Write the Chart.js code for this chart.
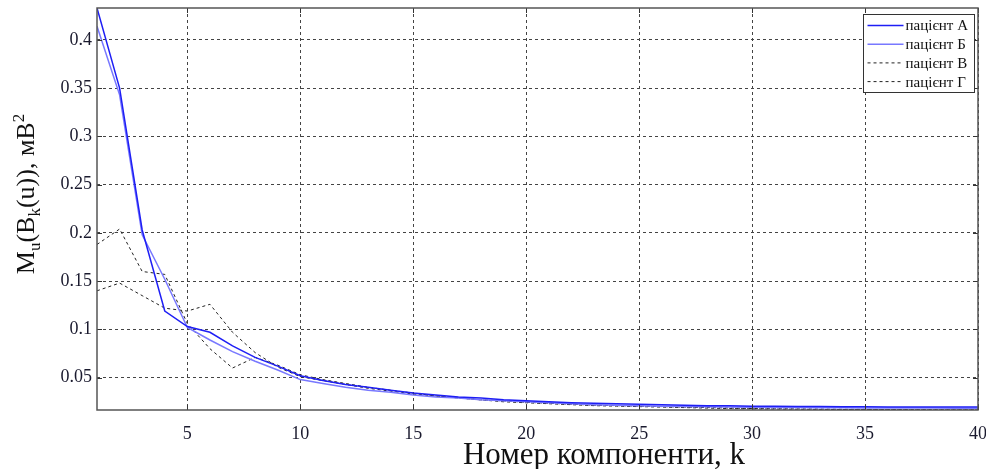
<!DOCTYPE html>
<html>
<head>
<meta charset="utf-8">
<script src="https://cdn.jsdelivr.net/npm/chart.js@4.4.1/dist/chart.umd.min.js"></script>
<style>
  html, body { margin: 0; padding: 0; background: #fff; }
  #wrap { width: 986px; height: 469px; }
</style>
</head>
<body>
<div id="wrap"><canvas id="compChart" width="986" height="469"></canvas></div>
<script>
/* eslint-disable no-undef */

// номер компоненти k
const kValues = [1, 2, 3, 4, 5, 6, 7, 8, 9, 10, 11, 12, 13, 14, 15, 16, 17, 18, 19, 20,
  21, 22, 23, 24, 25, 26, 27, 28, 29, 30, 31, 32, 33, 34, 35, 36, 37, 38, 39, 40]

const patientA = [0.433, 0.35, 0.203, 0.119, 0.103, 0.097, 0.083, 0.071, 0.062, 0.052,
  0.047, 0.043, 0.040, 0.037, 0.034, 0.032, 0.030, 0.029, 0.027, 0.026,
  0.025, 0.024, 0.0235, 0.023, 0.0225, 0.022, 0.0215, 0.021, 0.0208, 0.0205,
  0.0203, 0.0201, 0.0200, 0.0199, 0.0198, 0.0197, 0.0196, 0.0196, 0.0195, 0.0195]

const patientB = [0.414, 0.343, 0.198, 0.152, 0.102, 0.089, 0.077, 0.067, 0.058, 0.048,
  0.044, 0.040, 0.037, 0.035, 0.032, 0.030, 0.029, 0.027, 0.026, 0.025,
  0.024, 0.023, 0.022, 0.0215, 0.021, 0.0205, 0.020, 0.0198, 0.0195, 0.0193,
  0.0191, 0.0190, 0.0189, 0.0188, 0.0187, 0.0186, 0.0185, 0.0185, 0.0184, 0.0184]

const patientV = [0.188, 0.204, 0.160, 0.157, 0.106, 0.080, 0.060, 0.071, 0.063, 0.053,
  0.048, 0.044, 0.040, 0.037, 0.034, 0.031, 0.029, 0.027, 0.025, 0.024,
  0.023, 0.022, 0.021, 0.0205, 0.020, 0.0195, 0.019, 0.0185, 0.018, 0.0177,
  0.0175, 0.0173, 0.0171, 0.0170, 0.0169, 0.0168, 0.0167, 0.0166, 0.0166, 0.0165]

const patientG = [0.140, 0.148, 0.135, 0.122, 0.119, 0.126, 0.097, 0.076, 0.061, 0.051,
  0.047, 0.043, 0.039, 0.036, 0.033, 0.031, 0.029, 0.027, 0.026, 0.0245,
  0.0235, 0.0225, 0.0215, 0.021, 0.0205, 0.020, 0.0195, 0.019, 0.0185, 0.018,
  0.0178, 0.0176, 0.0174, 0.0172, 0.0171, 0.0170, 0.0169, 0.0168, 0.0167, 0.0167]

const seriesNames = ['пацієнт А', 'пацієнт Б', 'пацієнт В', 'пацієнт Г']

const xTicks = [5, 10, 15, 20, 25, 30, 35, 40]
const yTicks = [0.05, 0.1, 0.15, 0.2, 0.25, 0.3, 0.35, 0.4]

const xTitle = 'Номер компоненти, k'
// M_u(B_k(u)), мВ^2
const yTitleParts = [
  { t: 'M' }, { t: 'u', sub: true }, { t: '(B' }, { t: 'k', sub: true },
  { t: '(u)), мВ' }, { t: '2', sup: true }
]

const serif = '"Liberation Serif", "DejaVu Serif", serif'

// axis tight, как в MATLAB
const allValues = patientA.concat(patientB, patientV, patientG)
const yMin = Math.min(...allValues)
const yMax = Math.max(...allValues)

function drawParts(ctx, parts, size) {
  const subSize = Math.round(size * 0.65)
  let total = 0
  parts.forEach((p) => {
    ctx.font = `${p.sub || p.sup ? subSize : size}px ${serif}`
    p.w = ctx.measureText(p.t).width
    total += p.w
  })
  let x = -total / 2
  parts.forEach((p) => {
    ctx.font = `${p.sub || p.sup ? subSize : size}px ${serif}`
    let dy = 0
    if (p.sub) dy = size * 0.22
    if (p.sup) dy = -size * 0.4
    ctx.fillText(p.t, x, dy)
    x += p.w
  })
}

const matlabFrame = {
  id: 'matlabFrame',
  afterDraw(chart) {
    const { ctx, chartArea } = chart
    const { left, right, top, bottom } = chartArea
    const xs = chart.scales.x
    const ys = chart.scales.y
    ctx.save()
    // inner ticks
    ctx.strokeStyle = '#333'
    ctx.lineWidth = 1
    ctx.setLineDash([])
    ctx.beginPath()
    xTicks.forEach((v) => {
      const px = Math.round(xs.getPixelForValue(v)) + 0.5
      ctx.moveTo(px, bottom); ctx.lineTo(px, bottom - 5)
      ctx.moveTo(px, top); ctx.lineTo(px, top + 5)
    })
    yTicks.forEach((v) => {
      const py = Math.round(ys.getPixelForValue(v)) + 0.5
      ctx.moveTo(left, py); ctx.lineTo(left + 5, py)
      ctx.moveTo(right, py); ctx.lineTo(right - 5, py)
    })
    ctx.stroke()
    // box
    ctx.strokeStyle = '#555'
    ctx.lineWidth = 1.5
    ctx.strokeRect(left, top, right - left, bottom - top)

    // legend
    ctx.font = `15px ${serif}`
    let maxW = 0
    chart.data.datasets.forEach((ds) => {
      maxW = Math.max(maxW, ctx.measureText(ds.label).width)
    })
    const boxW = 43 + maxW + 6
    const boxH = 78
    const bx = right - 4 - boxW
    const by = top + 6
    ctx.fillStyle = '#fff'
    ctx.fillRect(bx, by, boxW, boxH)
    ctx.strokeStyle = '#333'
    ctx.lineWidth = 1
    ctx.strokeRect(Math.round(bx) + 0.5, Math.round(by) + 0.5, Math.round(boxW), boxH)
    chart.data.datasets.forEach((ds, i) => {
      const ly = by + 11.5 + i * 18.7
      ctx.beginPath()
      ctx.setLineDash(ds.borderDash || [])
      ctx.strokeStyle = ds.borderColor
      ctx.lineWidth = ds.borderWidth
      ctx.moveTo(bx + 5, ly)
      ctx.lineTo(bx + 41, ly)
      ctx.stroke()
      ctx.setLineDash([])
      ctx.fillStyle = '#111'
      ctx.textAlign = 'left'
      ctx.textBaseline = 'middle'
      ctx.fillText(ds.label, bx + 43, ly + 1)
    })

    // axis titles
    ctx.fillStyle = '#111'
    ctx.textAlign = 'center'
    ctx.textBaseline = 'alphabetic'
    ctx.font = `31px ${serif}`
    ctx.fillText(xTitle, 604, 464)

    ctx.translate(34, 194)
    ctx.rotate(-Math.PI / 2)
    ctx.textAlign = 'left'
    drawParts(ctx, yTitleParts, 26)
    ctx.restore()
  }
}

const commonLine = {
  pointRadius: 0,
  pointHoverRadius: 0,
  tension: 0,
  fill: false
}

const chartData = {
  labels: kValues,
  datasets: [
    { label: seriesNames[0], data: patientA, borderColor: 'rgb(30,30,245)', borderWidth: 1.5, ...commonLine },
    { label: seriesNames[1], data: patientB, borderColor: 'rgb(120,120,255)', borderWidth: 1.5, ...commonLine },
    { label: seriesNames[2], data: patientV, borderColor: '#222', borderWidth: 1, borderDash: [3, 3], ...commonLine },
    { label: seriesNames[3], data: patientG, borderColor: '#222', borderWidth: 1, borderDash: [3, 3], ...commonLine }
  ]
}

const tickFont = { family: serif, size: 18 }

const config = {
  type: 'line',
  data: chartData,
  options: {
    responsive: false,
    animation: false,
    devicePixelRatio: 1,
    layout: { padding: { top: 8, right: 8, left: 0, bottom: 0 } },
    plugins: {
      legend: { display: false },
      tooltip: { enabled: false }
    },
    scales: {
      x: {
        type: 'linear',
        min: 1,
        max: 40,
        afterBuildTicks(scale) {
          scale.ticks = xTicks.map((v) => ({ value: v }))
        },
        afterFit(scale) {
          scale.height = 59
          scale.paddingLeft = 0
          scale.paddingRight = 0
        },
        ticks: {
          color: '#1a1a2e',
          font: tickFont,
          padding: 13,
          maxRotation: 0,
          callback: (v) => String(v)
        },
        grid: { color: '#444', drawTicks: false, lineWidth: 1 },
        border: { display: false, dash: [3, 3] }
      },
      y: {
        type: 'linear',
        min: yMin,
        max: yMax,
        afterBuildTicks(scale) {
          scale.ticks = yTicks.map((v) => ({ value: v }))
        },
        afterFit(scale) {
          scale.width = 97
          scale.paddingTop = 0
          scale.paddingBottom = 0
        },
        ticks: {
          color: '#1a1a2e',
          font: tickFont,
          padding: 5,
          callback: (v) => String(v)
        },
        grid: { color: '#444', drawTicks: false, lineWidth: 1 },
        border: { display: false, dash: [3, 3] }
      }
    }
  },
  plugins: [matlabFrame]
}

const compChart = new Chart(document.getElementById('compChart'), config)
</script>
</body>
</html>
